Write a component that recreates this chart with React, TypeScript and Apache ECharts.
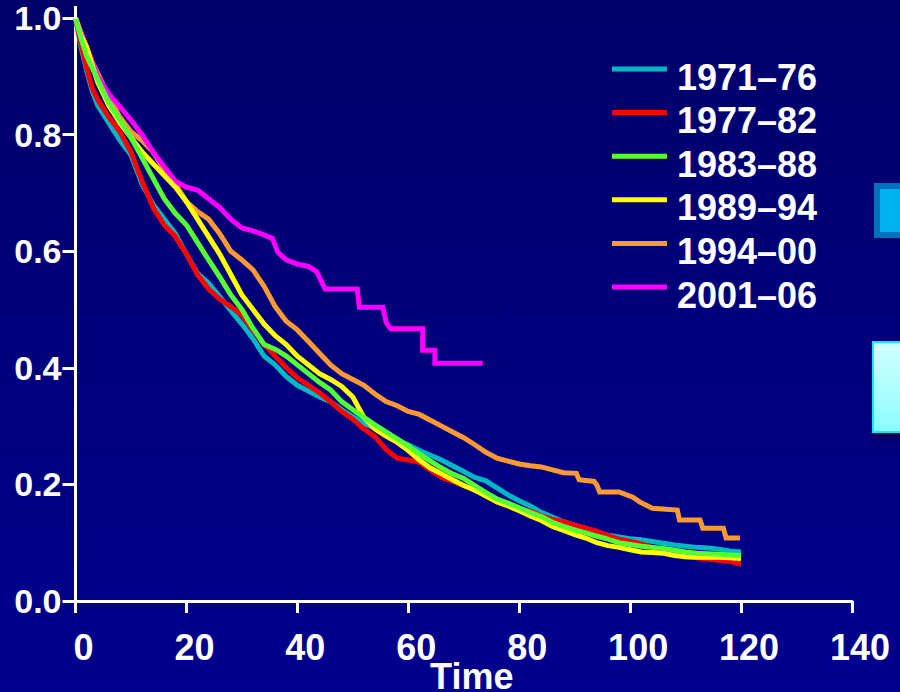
import React, { useEffect, useRef } from "react";
import * as echarts from "echarts";

const seriesNames = ["1971–76", "1977–82", "1983–88", "1989–94", "1994–00", "2001–06"];
const seriesColors = ["#00B8C4", "#FF0000", "#55FF33", "#FFFF00", "#FF9933", "#FF00FF"];

const xTicks = [0, 20, 40, 60, 80, 100, 120, 140];
const yTicks = [0, 0.2, 0.4, 0.6, 0.8, 1.0];

// common follow-up times (months) for the four oldest cohorts
const months = [
  0, 1, 2, 3, 4, 6, 8, 10, 12, 14, 16, 18, 20, 22, 24, 26, 28, 30, 32, 34, 36, 38, 40,
  42, 44, 46, 48, 50, 52, 54, 56, 58, 60, 62, 64, 66, 68, 70, 72, 74, 76, 78, 80,
  82, 84, 86, 88, 90, 92, 94, 96, 98, 100, 102, 104, 106, 108, 110, 112, 114, 116, 118, 120,
];

const s1971 = [
  1.0, 0.95, 0.91, 0.875, 0.85, 0.82, 0.79, 0.765, 0.715, 0.68, 0.655, 0.63, 0.595, 0.562, 0.545, 0.522, 0.498, 0.475, 0.45, 0.42, 0.405, 0.385, 0.37,
  0.36, 0.35, 0.342, 0.328, 0.316, 0.305, 0.296, 0.285, 0.275, 0.268, 0.258, 0.25, 0.242, 0.232, 0.222, 0.212, 0.206, 0.194, 0.182, 0.172,
  0.163, 0.152, 0.144, 0.136, 0.13, 0.124, 0.118, 0.113, 0.11, 0.107, 0.105, 0.102, 0.099, 0.096, 0.094, 0.092, 0.091, 0.089, 0.086, 0.084,
];
const s1977 = [
  1.0, 0.955, 0.915, 0.88, 0.86, 0.83, 0.805, 0.77, 0.72, 0.675, 0.645, 0.625, 0.595, 0.56, 0.535, 0.518, 0.505, 0.49, 0.465, 0.44, 0.42, 0.4, 0.383,
  0.37, 0.357, 0.342, 0.325, 0.312, 0.295, 0.282, 0.26, 0.245, 0.242, 0.238, 0.225, 0.212, 0.205, 0.198, 0.192, 0.186, 0.17, 0.163, 0.158,
  0.154, 0.146, 0.14, 0.136, 0.13, 0.125, 0.12, 0.112, 0.106, 0.102, 0.098, 0.092, 0.088, 0.082, 0.076, 0.074, 0.072, 0.07, 0.068, 0.063,
];
const s1983 = [
  1.0, 0.965, 0.935, 0.915, 0.895, 0.855, 0.825, 0.795, 0.76, 0.725, 0.69, 0.665, 0.645, 0.615, 0.585, 0.556, 0.525, 0.5, 0.468, 0.44, 0.432, 0.42, 0.405,
  0.39, 0.375, 0.362, 0.342, 0.328, 0.315, 0.302, 0.29, 0.278, 0.266, 0.252, 0.24, 0.228, 0.218, 0.21, 0.198, 0.186, 0.175, 0.168, 0.16,
  0.152, 0.145, 0.135, 0.128, 0.122, 0.117, 0.111, 0.106, 0.1, 0.097, 0.094, 0.092, 0.09, 0.087, 0.084, 0.082, 0.081, 0.08, 0.079, 0.078,
];
const s1989 = [
  1.0, 0.97, 0.95, 0.92, 0.89, 0.85, 0.82, 0.795, 0.77, 0.75, 0.73, 0.71, 0.685, 0.655, 0.625, 0.595, 0.56, 0.525, 0.5, 0.475, 0.455, 0.44, 0.42,
  0.405, 0.39, 0.38, 0.368, 0.35, 0.315, 0.295, 0.283, 0.272, 0.258, 0.242, 0.228, 0.218, 0.208, 0.198, 0.19, 0.18, 0.17, 0.163, 0.155,
  0.146, 0.138, 0.128, 0.121, 0.114, 0.108, 0.1, 0.095, 0.092, 0.088, 0.084, 0.083, 0.082, 0.078, 0.076, 0.075, 0.075, 0.075, 0.074, 0.073,
];

// 1994–00: smooth early part, visible stairs in the tail
const months1994 = [
  0, 1, 2, 3, 4, 6, 8, 10, 12, 14, 16, 18, 20, 22, 24, 26, 28, 30, 32, 34, 36, 38, 40,
  42, 44, 46, 48, 50, 52, 54, 56, 58, 60, 62, 64, 66, 68, 70, 72, 74, 76, 78, 80,
  82, 84, 86, 88, 90.3, 90.8, 93.5, 94, 94.5, 98, 100.5, 101.7, 104, 108.5, 108.9, 112.6, 113.1, 116.8, 117.3, 119.8,
];
const s1994 = [
  1.0, 0.975, 0.95, 0.925, 0.905, 0.865, 0.83, 0.805, 0.79, 0.77, 0.74, 0.715, 0.685, 0.668, 0.655, 0.63, 0.6, 0.585, 0.568, 0.54, 0.505, 0.48, 0.465,
  0.445, 0.425, 0.405, 0.39, 0.38, 0.37, 0.355, 0.342, 0.335, 0.325, 0.32, 0.31, 0.3, 0.29, 0.28, 0.268, 0.255, 0.245, 0.24, 0.235,
  0.232, 0.23, 0.225, 0.22, 0.219, 0.208, 0.205, 0.199, 0.187, 0.187, 0.178, 0.17, 0.159, 0.156, 0.139, 0.139, 0.125, 0.125, 0.108, 0.108,
];

// 2001–06: shorter follow-up, coarse steps
const months2001 = [
  0, 1, 2, 3, 4, 6, 8, 10, 12, 14, 16, 18, 20, 22, 24, 26, 28, 30, 32, 34, 35.5, 36.5, 38, 40,
  42, 43.5, 45, 50.8, 51.2, 55.4, 56, 56.8, 62.6, 62.6, 64.8, 64.8, 73.4,
];
const s2001 = [
  1.0, 0.975, 0.95, 0.925, 0.9, 0.87, 0.848, 0.825, 0.8, 0.77, 0.745, 0.72, 0.71, 0.705, 0.69, 0.675, 0.655, 0.64, 0.635, 0.628, 0.622, 0.598, 0.585, 0.578,
  0.574, 0.565, 0.535, 0.535, 0.504, 0.504, 0.478, 0.467, 0.467, 0.43, 0.43, 0.408, 0.408,
];

const seriesTimes = [months, months, months, months, months1994, months2001];
const seriesValues = [s1971, s1977, s1983, s1989, s1994, s2001];
// drawing order (back to front)
const drawOrder = [4, 5, 0, 1, 3, 2];

const FONT = "'Liberation Sans', Arial, sans-serif";
// legend icon: coloured bar at the top, the text sits a little lower
const legendIcon = "path://M0,0L55,0L55,5L0,5Z M0,21L0.01,21L0.01,21.01Z";

export default function App() {
  const ref = useRef<HTMLDivElement>(null);

  useEffect(() => {
    if (!ref.current) return;
    const chart = echarts.init(ref.current, undefined, { renderer: "svg" });

    const series = drawOrder.map((i, k) => ({
      name: seriesNames[i],
      type: "line",
      showSymbol: false,
      symbol: "none",
      clip: false,
      z: 2 + k,
      lineStyle: { color: seriesColors[i], width: 5, join: "miter" },
      itemStyle: { color: seriesColors[i] },
      data: seriesTimes[i].map((t, j) => [t, seriesValues[i][j]]),
    }));

    const option = {
      animation: false,
      backgroundColor: "#00007A",
      textStyle: { fontFamily: FONT },
      grid: {
        left: 75.5,
        right: 48,
        top: 18,
        bottom: 91,
        containLabel: false,
        outerBoundsMode: "none",
      },
      legend: {
        data: seriesNames,
        orient: "vertical",
        left: 607,
        top: 54,
        icon: legendIcon,
        itemWidth: 55,
        itemHeight: 21,
        itemGap: 7.6,
        selectedMode: false,
        textStyle: {
          color: "#FFFFFF",
          fontSize: 36,
          fontWeight: "bold",
          fontFamily: FONT,
          lineHeight: 36,
          padding: [0, 0, 0, 5],
        },
      },
      xAxis: {
        type: "value",
        min: xTicks[0],
        max: xTicks[xTicks.length - 1],
        interval: 20,
        name: "Time",
        nameLocation: "middle",
        nameGap: 61,
        nameMoveOverlap: false,
        nameTextStyle: {
          color: "#FFFFFF",
          fontSize: 36,
          fontWeight: "bold",
          fontFamily: FONT,
          lineHeight: 28,
          padding: [0, 0, 0, 16],
        },
        axisLine: { show: true, lineStyle: { color: "#FFFFFF", width: 3 } },
        axisTick: { show: true, inside: false, length: 12, lineStyle: { color: "#FFFFFF", width: 3 } },
        axisLabel: {
          color: "#FFFFFF",
          fontSize: 36,
          fontWeight: "bold",
          fontFamily: FONT,
          margin: 28,
          padding: [0, 0, 0, 16],
        },
        splitLine: { show: false },
      },
      yAxis: {
        type: "value",
        min: yTicks[0],
        max: yTicks[yTicks.length - 1],
        interval: 0.2,
        axisLine: { show: true, lineStyle: { color: "#FFFFFF", width: 3 } },
        axisTick: { show: true, inside: false, length: 13, lineStyle: { color: "#FFFFFF", width: 3 } },
        axisLabel: {
          color: "#FFFFFF",
          fontSize: 34,
          fontWeight: "bold",
          fontFamily: FONT,
          margin: 14,
          formatter: (v: number) => v.toFixed(1),
        },
        splitLine: { show: false },
      },
      graphic: [
        {
          type: "rect",
          z: -100,
          silent: true,
          shape: { x: 0, y: 0, width: 900, height: 692 },
          style: {
            fill: {
              type: "linear",
              x: 0,
              y: 0,
              x2: 0,
              y2: 1,
              colorStops: [
                { offset: 0, color: "#00006A" },
                { offset: 1, color: "#00008E" },
              ],
            },
          },
        },
        {
          type: "line",
          z: 10,
          silent: true,
          shape: { x1: 75.5, y1: 6, x2: 75.5, y2: 19 },
          style: { stroke: "#FFFFFF", lineWidth: 3 },
        },
        {
          type: "rect",
          z: 10,
          silent: true,
          shape: { x: 877, y: 186, width: 40, height: 49 },
          style: { fill: "#00B0F0", stroke: "#0072BC", lineWidth: 6 },
        },
        {
          type: "rect",
          z: 10,
          silent: true,
          shape: { x: 873, y: 342, width: 40, height: 90 },
          style: {
            fill: {
              type: "linear",
              x: 0,
              y: 0,
              x2: 0,
              y2: 1,
              colorStops: [
                { offset: 0, color: "#D2FFFF" },
                { offset: 1, color: "#8CFCFF" },
              ],
            },
            stroke: "#00F0FF",
            lineWidth: 2,
            shadowBlur: 8,
            shadowOffsetX: 3,
            shadowOffsetY: 4,
            shadowColor: "rgba(0,0,0,0.55)",
          },
        },
      ],
      series,
    };

    chart.setOption(option as any);
    return () => chart.dispose();
  }, []);

  return (
    <div
      ref={ref}
      style={{ position: "absolute", left: 0, top: 0, width: 900, height: 692 }}
    />
  );
}
